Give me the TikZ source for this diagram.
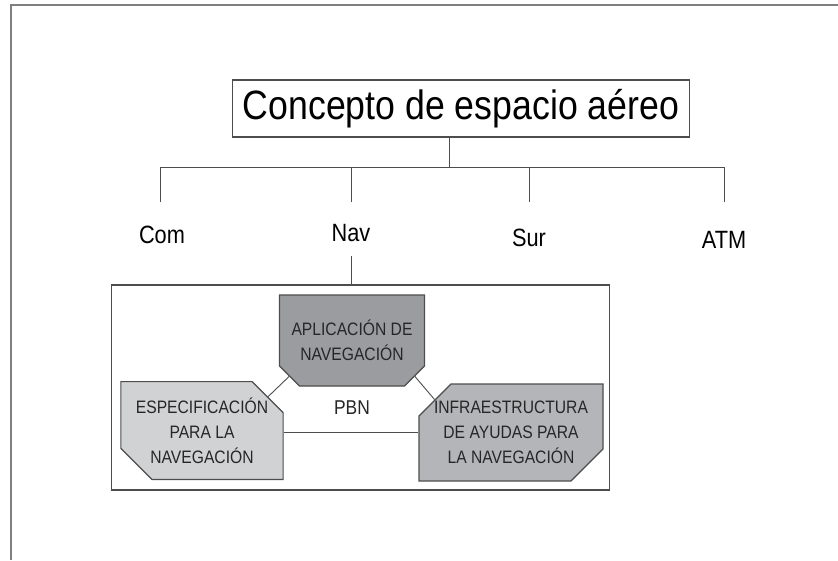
\documentclass[tikz,border=0pt]{standalone}
\usepackage{fontspec}
\setmainfont{Liberation Sans}[FakeStretch=0.87]
\usetikzlibrary{shapes.misc,calc}

\definecolor{framegray}{HTML}{7F7F7F}
\definecolor{linegray}{HTML}{4D4D4D}
\definecolor{txtgray}{HTML}{262626}
\definecolor{aplicfill}{HTML}{9B9CA0}
\definecolor{especfill}{HTML}{D1D2D4}
\definecolor{infrafill}{HTML}{B4B5B8}

\tikzset{
  branch/.style={draw=linegray, line width=0.9pt},
  pbnbox/.style={chamfered rectangle, draw=linegray, line width=1.2pt, text=txtgray,
    align=center, inner sep=0pt, font=\fontsize{18}{25}\selectfont},
  cnslabel/.style={inner sep=0pt, text height=18.3pt, text depth=0pt,
    font=\fontsize{25}{30}\selectfont}
}

\begin{document}
\begin{tikzpicture}[x=1pt,y=-1pt]
    \useasboundingbox (0,0) rectangle (838,560);
    \draw[framegray, line width=1.8pt] (11,560) -- (11,5) -- (838,5);

    \node[draw=linegray, line width=1.2pt, minimum width=457pt, minimum height=57pt,
      inner sep=0pt, text height=29.4pt, text depth=7.4pt,
      font=\fontsize{41}{48}\selectfont] (title) at (461,108.5) {Concepto de espacio aéreo};

    \coordinate (hub) at (449,167);
    \coordinate (b1) at (160,202);
    \coordinate (b2) at (351,202);
    \coordinate (b3) at (529,202);
    \coordinate (b4) at (724,202);

    \node[cnslabel] (com) at (162,234) {Com};
    \node[cnslabel] (nav) at (351,232) {Nav};
    \node[cnslabel] (sur) at (529,237) {Sur};
    \node[cnslabel] (atm) at (724,239) {ATM};

    \draw[branch] (title.south -| hub) -- (hub);
    \draw[branch] (b1 |- hub) -- (b4 |- hub);
    \foreach \b in {b1,b2,b3,b4}
      \draw[branch] (\b |- hub) -- (\b);

    \node[draw=linegray, line width=1.2pt, minimum width=498pt, minimum height=205pt,
      inner sep=0pt] (navbox) at (360.8,387.5) {};
    \draw[branch, shorten <=15pt] (nav.south) -- (navbox.north -| nav);

    \node[pbnbox, fill=aplicfill, minimum width=138pt, minimum height=91pt,
      chamfered rectangle corners={south west,south east},
      chamfered rectangle xsep=12pt, chamfered rectangle ysep=8pt]
      (aplic) at (352,340.5) {APLICACIÓN DE\\NAVEGACIÓN};
    \node[pbnbox, fill=especfill, minimum width=162pt, minimum height=97pt,
      chamfered rectangle corners={north east,south west},
      chamfered rectangle xsep=15pt, chamfered rectangle ysep=16pt]
      (espec) at (202,430.5) {ESPECIFICACIÓN\\PARA LA\\NAVEGACIÓN};
    \node[pbnbox, fill=infrafill, minimum width=182pt, minimum height=97pt,
      chamfered rectangle corners={north west,south east},
      chamfered rectangle xsep=15pt, chamfered rectangle ysep=17pt]
      (infra) at (511,432.5) {INFRAESTRUCTURA\\DE AYUDAS PARA\\LA NAVEGACIÓN};

    \node[text=txtgray, font=\fontsize{20}{24}\selectfont] (pbn) at (352,408) {PBN};

    \draw[branch] ($(aplic.before south west)!0.5!(aplic.after south west)$)
      -- ($(espec.before north east)!0.5!(espec.after north east)$);
    \draw[branch] ($(aplic.before south east)!0.5!(aplic.after south east)$)
      -- ($(infra.before north west)!0.5!(infra.after north west)$);
    \draw[branch] (espec.east |- infra.west) -- (infra.west);

\end{tikzpicture}
\end{document}
